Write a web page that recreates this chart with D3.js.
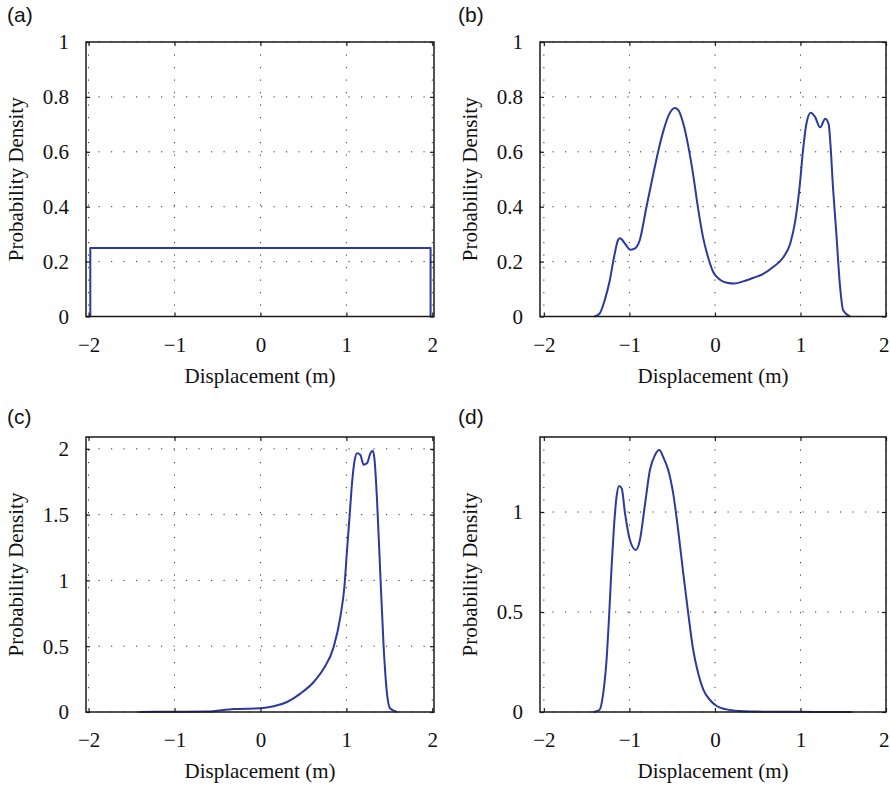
<!DOCTYPE html>
<html>
<head>
<meta charset="utf-8">
<script src="https://cdn.jsdelivr.net/npm/d3@7"></script>
<style>
    body { margin: 0; background: #fff; }
    svg { display: block; }
</style>
</head>
<body>
<svg id="chart" width="890" height="787"></svg>
<script>
// tick values and labels
var xTicks = [-2, -1, 0, 1, 2];
var xTickLabels = ['\u22122', '\u22121', '0', '1', '2'];
var yTicksAB = [0, 0.2, 0.4, 0.6, 0.8, 1];
var yTickLabelsAB = ['0', '0.2', '0.4', '0.6', '0.8', '1'];
var yTicksC = [0, 0.5, 1, 1.5, 2];
var yTickLabelsC = ['0', '0.5', '1', '1.5', '2'];
var yTicksD = [0, 0.5, 1];
var yTickLabelsD = ['0', '0.5', '1'];

// (a) uniform density
var xA = [-1.98, -1.98, 1.98, 1.98];
var yA = [0, 0.25, 0.25, 0];

// (b)
var xB = [-1.41, -1.35, -1.29, -1.23, -1.18, -1.13, -1.11, -1.05, -0.99, -0.94, -0.88, -0.80, -0.74, -0.66, -0.60, -0.53, -0.47, -0.43, -0.37, -0.31, -0.25, -0.20, -0.14, -0.08, -0.02, 0.06, 0.14, 0.23, 0.33, 0.45, 0.57, 0.68, 0.80, 0.88, 0.94, 0.99, 1.03, 1.07, 1.12, 1.17, 1.23, 1.29, 1.33, 1.35, 1.38, 1.42, 1.46, 1.50, 1.58];
var yB = [0, 0.01, 0.058, 0.13, 0.216, 0.28, 0.285, 0.265, 0.243, 0.247, 0.277, 0.40, 0.49, 0.606, 0.679, 0.74, 0.76, 0.753, 0.703, 0.618, 0.508, 0.40, 0.29, 0.216, 0.162, 0.134, 0.123, 0.12, 0.128, 0.141, 0.156, 0.18, 0.216, 0.265, 0.35, 0.472, 0.606, 0.703, 0.742, 0.727, 0.689, 0.72, 0.70, 0.63, 0.472, 0.30, 0.119, 0.022, 0];

// (c)
var xC = [-1.415, -1.0, -0.62, -0.31, 0, 0.155, 0.31, 0.465, 0.62, 0.736, 0.853, 0.93, 0.977, 1.008, 1.04, 1.066, 1.097, 1.124, 1.163, 1.20, 1.24, 1.28, 1.306, 1.326, 1.357, 1.395, 1.434, 1.473, 1.51, 1.59];
var yC = [0, 0.002, 0.004, 0.023, 0.028, 0.043, 0.076, 0.14, 0.228, 0.33, 0.495, 0.723, 0.95, 1.23, 1.51, 1.74, 1.915, 1.966, 1.953, 1.88, 1.89, 1.966, 1.986, 1.93, 1.61, 1.05, 0.495, 0.14, 0.026, 0];

// (d)
var xD = [-1.42, -1.35, -1.306, -1.267, -1.236, -1.208, -1.18, -1.15, -1.12, -1.09, -1.05, -0.994, -0.924, -0.877, -0.82, -0.76, -0.70, -0.65, -0.60, -0.546, -0.488, -0.43, -0.37, -0.312, -0.254, -0.195, -0.137, -0.058, 0.02, 0.137, 0.29, 0.49, 0.8, 1.2, 1.6];
var yD = [0, 0.01, 0.093, 0.26, 0.49, 0.727, 0.927, 1.077, 1.13, 1.118, 0.99, 0.86, 0.81, 0.86, 1.03, 1.21, 1.285, 1.31, 1.27, 1.21, 1.093, 0.91, 0.693, 0.493, 0.31, 0.193, 0.113, 0.06, 0.03, 0.013, 0.005, 0.002, 0.001, 0, 0];

var panels = [
    { tag: '(a)', tagX: 7, tagY: 22, left: 86, top: 42, width: 348, height: 274.5, xDom: [-2.03, 2.02], yDom: [0, 1], yTicks: yTicksAB, yLabels: yTickLabelsAB, xs: xA, ys: yA, curve: d3.curveLinear },
    { tag: '(b)', tagX: 458, tagY: 22, left: 540, top: 42, width: 346, height: 274.5, xDom: [-2.045, 2.0], yDom: [0, 1], yTicks: yTicksAB, yLabels: yTickLabelsAB, xs: xB, ys: yB, curve: d3.curveMonotoneX },
    { tag: '(c)', tagX: 7, tagY: 424, left: 86, top: 437, width: 348, height: 275, xDom: [-2.03, 2.02], yDom: [0, 2.09], yTicks: yTicksC, yLabels: yTickLabelsC, xs: xC, ys: yC, curve: d3.curveMonotoneX },
    { tag: '(d)', tagX: 458, tagY: 424, left: 540, top: 437, width: 346, height: 275, xDom: [-2.045, 2.0], yDom: [0, 1.375], yTicks: yTicksD, yLabels: yTickLabelsD, xs: xD, ys: yD, curve: d3.curveMonotoneX }
];

var svg = d3.select('#chart');
var svgWidth = 890;
var serif = '"Liberation Serif", "Times New Roman", serif';
var lineColor = '#2b3a9c';

panels.forEach(drawPanel);

function drawPanel(p) {
    var x = d3.scaleLinear().domain(p.xDom).range([0, p.width]);
    var y = d3.scaleLinear().domain(p.yDom).range([p.height, 0]);

    // panel tag
    svg.append('text')
        .attr('x', p.tagX)
        .attr('y', p.tagY)
        .attr('font-family', '"Liberation Sans", Arial, sans-serif')
        .attr('font-size', '21px')
        .attr('fill', '#111')
        .text(p.tag);

    var g = svg.append('g').attr('transform', 'translate(' + p.left + ',' + p.top + ')');

    // dotted grid
    g.append('g')
        .selectAll('line')
        .data(xTicks)
        .join('line')
        .attr('x1', d => x(d)).attr('x2', d => x(d))
        .attr('y1', 0).attr('y2', p.height)
        .attr('stroke', '#333')
        .attr('stroke-width', 1)
        .attr('stroke-dasharray', '1.2,11.3');
    g.append('g')
        .selectAll('line')
        .data(p.yTicks)
        .join('line')
        .attr('y1', d => y(d)).attr('y2', d => y(d))
        .attr('x1', 0).attr('x2', p.width)
        .attr('stroke', '#333')
        .attr('stroke-width', 1)
        .attr('stroke-dasharray', '1.2,11.3');

    // curve
    var line = d3.line()
        .x(d => x(d[0]))
        .y(d => y(d[1]))
        .curve(p.curve);
    g.append('path')
        .datum(p.xs.map((v, i) => [v, p.ys[i]]))
        .attr('d', line)
        .attr('fill', 'none')
        .attr('stroke', lineColor)
        .attr('stroke-width', 2)
        .attr('stroke-linejoin', 'round');

    // axes with inward ticks, box all round
    var tickLen = 4;
    var bottomAxis = g.append('g')
        .attr('transform', 'translate(0,' + p.height + ')')
        .call(d3.axisBottom(x).tickValues(xTicks).tickSizeInner(-tickLen).tickSizeOuter(0).tickFormat((d, i) => xTickLabels[i]))
        .call(axisStyle);
    bottomAxis.selectAll('text').attr('dy', 0).attr('y', 35);

    // keep labels at the right edge inside the page
    bottomAxis.selectAll('text').each(function(d) {
        var half = this.getComputedTextLength() / 2;
        var over = p.left + x(d) + half - (svgWidth - 1);
        if (over > 0) d3.select(this).attr('x', -over);
    });

    g.append('g')
        .call(d3.axisTop(x).tickValues(xTicks).tickSizeInner(-tickLen).tickSizeOuter(0).tickFormat(''))
        .call(axisStyle);
    g.append('g')
        .call(d3.axisLeft(y).tickValues(p.yTicks).tickSizeInner(-tickLen).tickSizeOuter(0).tickFormat((d, i) => p.yLabels[i]))
        .call(axisStyle)
        .selectAll('text').attr('x', -17).attr('dy', '0.33em');
    g.append('g')
        .attr('transform', 'translate(' + p.width + ',0)')
        .call(d3.axisRight(y).tickValues(p.yTicks).tickSizeInner(-tickLen).tickSizeOuter(0).tickFormat(''))
        .call(axisStyle);

    g.append('rect')
        .attr('width', p.width)
        .attr('height', p.height)
        .attr('fill', 'none')
        .attr('stroke', '#1a1a1a')
        .attr('stroke-width', 1.5);

    // axis titles
    g.append('text')
        .attr('x', p.width / 2)
        .attr('y', p.height + 66)
        .attr('text-anchor', 'middle')
        .attr('font-family', serif)
        .attr('font-size', '21px')
        .attr('fill', '#111')
        .text('Displacement (m)');
    g.append('text')
        .attr('transform', 'translate(-63,' + p.height / 2 + ') rotate(-90)')
        .attr('text-anchor', 'middle')
        .attr('font-family', serif)
        .attr('font-size', '21px')
        .attr('fill', '#111')
        .text('Probability Density');
}

function axisStyle(sel) {
    sel.select('.domain').remove();
    sel.selectAll('line').attr('stroke', '#1a1a1a').attr('stroke-width', 1.2);
    sel.selectAll('text')
        .attr('font-family', serif)
        .attr('font-size', '21px')
        .attr('fill', '#111');
}
</script>
</body>
</html>
